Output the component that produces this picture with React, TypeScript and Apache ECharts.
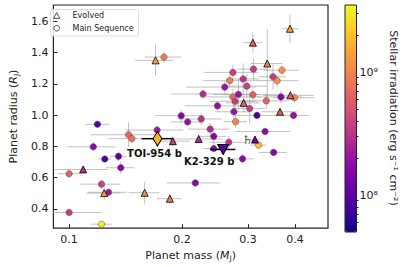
import React, { useEffect, useRef } from 'react';
import * as echarts from 'echarts';

// ---- Evolved host stars (triangles) ----
const evolvedMass = [0.109, 0.124, 0.159, 0.1856, 0.189, 0.2215, 0.170, 0.309, 0.3375, 0.388, 0.292, 0.389, 0.365, 0.313];
const evolvedRadius = [0.652, 0.501, 0.503, 0.465, 0.833, 0.847, 1.35, 1.463, 1.33, 1.552, 1.078, 1.126, 1.021, 0.843];
const evolvedIrr = [8.47, 9.10, 9.05, 8.95, 8.55, 8.45, 9.15, 8.80, 8.98, 9.15, 8.78, 8.80, 8.78, 8.10]; // log10
const evolvedMassErr = [0.0175, 0.013, 0.015, 0.014, 0.02, 0.035, 0.02, 0.018, 0.033, 0.02, 0.03, 0.06, 0.04, 0.01];
const evolvedRadiusErr = [0.02, 0.045, 0.07, 0.035, 0.03, 0.03, 0.1, 0.065, 0.22, 0.09, 0.06, 0.03, 0.02, 0.02];

// ---- Main sequence host stars (circles) ----
const mainMass = [0.119, 0.144, 0.147, 0.116, 0.1245, 0.1354, 0.1373, 0.1, 0.122, 0.1274, 0.1, 0.122, 0.217, 0.1716, 0.179,
  0.199, 0.207, 0.225, 0.2377, 0.243, 0.2665, 0.243, 0.2733, 0.31, 0.268, 0.26, 0.2976, 0.2275, 0.2733, 0.2827, 0.309, 0.277,
  0.2486, 0.303, 0.3168, 0.275, 0.278, 0.333, 0.32, 0.351, 0.29, 0.3965, 0.367, 0.399, 0.3355, 0.3694, 0.3585, 0.3496, 0.291];
const mainRadius = [0.941, 0.874, 0.849, 0.797, 0.719, 0.736, 0.663, 0.625, 0.558, 0.506, 0.377, 0.302, 0.566, 0.904, 1.371,
  0.996, 0.956, 0.975, 0.91, 0.864, 0.826, 0.786, 1.273, 1.294, 1.22, 1.179, 1.185, 1.135, 1.116, 1.132, 1.13, 1.088,
  1.059, 1.042, 0.998, 1.021, 0.958, 0.895, 0.808, 0.761, 0.72, 0.998, 1.116, 1.111, 1.091, 1.287, 1.22, 1.245, 1.231];
const mainIrr = [7.95, 8.85, 8.90, 8.22, 7.93, 8.00, 8.20, 8.80, 8.60, 8.30, 8.55, 9.48, 8.20, 8.35, 8.95,
  8.20, 8.30, 8.48, 8.44, 8.20, 8.50, 8.25, 8.58, 8.55, 8.95, 8.30, 8.58, 8.45, 8.85, 8.30, 8.80, 8.55,
  8.28, 8.55, 7.93, 8.30, 9.00, 8.22, 9.30, 8.20, 8.22, 8.28, 8.18, 9.00, 8.82, 9.05, 9.05, 8.55, 8.50];
const mainMassErr = [0.009, 0.03, 0.02, 0.017, 0.005, 0.007, 0.012, 0.007, 0.015, 0.015, 0.022, 0.008, 0.035, 0.03, 0.02,
  0.03, 0.02, 0.03, 0.03, 0.02, 0.03, 0.015, 0.045, 0.03, 0.04, 0.055, 0.04, 0.04, 0.05, 0.04, 0.05, 0.04,
  0.045, 0.03, 0.04, 0.03, 0.02, 0.055, 0.015, 0.03, 0.02, 0.04, 0.05, 0.05, 0.05, 0.04, 0.05, 0.03, 0.03];
const mainRadiusErr = [0.02, 0.08, 0.03, 0.03, 0.01, 0.03, 0.04, 0.015, 0.03, 0.02, 0.02, 0.01, 0.02, 0.03, 0.035,
  0.04, 0.02, 0.04, 0.04, 0.05, 0.04, 0.02, 0.05, 0.07, 0.04, 0.04, 0.08, 0.03, 0.05, 0.1, 0.04, 0.06,
  0.03, 0.1, 0.02, 0.05, 0.04, 0.02, 0.02, 0.02, 0.03, 0.02, 0.04, 0.03, 0.05, 0.03, 0.04, 0.08, 0.1];

// ---- Highlighted targets ----
const targetNames = ['TOI-954 b', 'K2-329 b'];
const targetMass = [0.172, 0.2575];
const targetRadius = [0.849, 0.78];
const targetIrr = [9.23, 7.98];
const targetMassErr = [0.016, 0.02];
const targetRadiusErr = [0.05, 0.02];

// ---- Saturn ----
const saturnMass = 0.299;
const saturnRadius = 0.843;

// ---- Axes ----
const xTicks = [0.1, 0.2, 0.3, 0.4];
const yTicks = [0.4, 0.6, 0.8, 1.0, 1.2, 1.4, 1.6];
const xRange = [0.0908, 0.49];
const yRange = [0.277, 1.704];
const cbarRange = [7.70, 9.545];
const cbarMajor = [8, 9];
const cbarMinor = [7.778, 7.845, 7.903, 7.954, 8.301, 8.477, 8.602, 8.699, 8.778, 8.845, 8.903, 8.954, 9.301, 9.477];

const plasma = ['#0d0887', '#41049d', '#6a00a8', '#8f0da4', '#b12a90', '#cc4778', '#e16462', '#f2844b', '#fca636', '#fcce25', '#f0f921'];

const FONT = 'DejaVu Sans';
const lg = Math.log10;

function errRows(m: number[], r: number[], me: number[], re: number[]) {
  return m.map((v, i) => [lg(v), r[i], lg(v - me[i]), lg(v + me[i]), r[i] - re[i], r[i] + re[i]]);
}

function makeErrRender(color: string, width: number, opacity: number) {
  return (params: any, api: any) => {
    const x = api.value(0), y = api.value(1);
    const a = api.coord([api.value(2), y]);
    const b = api.coord([api.value(3), y]);
    const c = api.coord([x, api.value(4)]);
    const d = api.coord([x, api.value(5)]);
    const style = { stroke: color, lineWidth: width, opacity };
    return {
      type: 'group',
      children: [
        { type: 'line', shape: { x1: a[0], y1: a[1], x2: b[0], y2: b[1] }, style },
        { type: 'line', shape: { x1: c[0], y1: c[1], x2: d[0], y2: d[1] }, style },
      ],
    };
  };
}

export default function App() {
  const ref = useRef<HTMLDivElement>(null);
  useEffect(() => {
    document.body.style.margin = '0';
    const chart = echarts.init(ref.current!, null, { renderer: 'svg' });
    const grayErr = [
      ...errRows(mainMass, mainRadius, mainMassErr, mainRadiusErr),
      ...errRows(evolvedMass, evolvedRadius, evolvedMassErr, evolvedRadiusErr),
    ];
    const blackErr = errRows(targetMass, targetRadius, targetMassErr, targetRadiusErr);
    const axisColor = '#222';
    const nameRich = {
      i: { fontStyle: 'italic', fontSize: 11, fontFamily: FONT, color: axisColor },
      s: { fontSize: 7.5, fontFamily: FONT, color: axisColor, padding: [5, 0, 0, 0] },
    };
    const option: any = {
      animation: false,
      backgroundColor: '#fff',
      textStyle: { fontFamily: FONT },
      grid: [
        { left: 42, top: 5, width: 286, height: 227, show: true, borderColor: axisColor, borderWidth: 1.2, backgroundColor: 'transparent' },
        { left: 345, top: 5, width: 11.5, height: 227, show: false },
      ],
      xAxis: [
        {
          gridIndex: 0, type: 'value', min: lg(xRange[0]), max: lg(xRange[1]),
          axisLine: { show: false }, splitLine: { show: false },
          axisTick: { show: true, inside: true, length: 4, customValues: xTicks.map(lg), lineStyle: { color: axisColor } },
          axisLabel: { customValues: xTicks.map(lg), formatter: (v: number) => String(Math.round(Math.pow(10, v) * 10) / 10), fontSize: 11, color: axisColor, margin: 6, fontFamily: FONT },
          name: 'Planet mass ({i|M}{s|J})', nameLocation: 'middle', nameGap: 16,
          nameTextStyle: { fontSize: 11, color: axisColor, fontFamily: FONT, rich: nameRich },
        },
        { gridIndex: 1, type: 'value', show: false, min: 0, max: 1 },
      ],
      yAxis: [
        {
          gridIndex: 0, type: 'value', min: yRange[0], max: yRange[1],
          axisLine: { show: false }, splitLine: { show: false },
          axisTick: { show: true, inside: true, length: 4, customValues: yTicks, lineStyle: { color: axisColor } },
          axisLabel: { customValues: yTicks, formatter: (v: number) => v.toFixed(1), fontSize: 11, color: axisColor, margin: 5, fontFamily: FONT },
          name: 'Planet radius ({i|R}{s|J})', nameLocation: 'middle', nameGap: 27, nameRotate: 90,
          nameTextStyle: { fontSize: 11, color: axisColor, fontFamily: FONT, rich: nameRich },
        },
        {
          gridIndex: 1, type: 'value', position: 'right', min: cbarRange[0], max: cbarRange[1],
          axisLine: { show: false }, splitLine: { show: false },
          axisTick: { show: true, length: 3.5, customValues: cbarMajor, lineStyle: { color: axisColor } },
          axisLabel: { customValues: cbarMajor, formatter: (v: number) => (Math.round(v) === 8 ? '10⁸' : '10⁹'), fontSize: 11, color: axisColor, margin: 3, fontFamily: FONT },
        },
        {
          gridIndex: 1, type: 'value', position: 'right', min: cbarRange[0], max: cbarRange[1],
          axisLine: { show: false }, splitLine: { show: false },
          axisTick: { show: true, length: 2, customValues: cbarMinor, lineStyle: { color: axisColor } },
          axisLabel: { show: false },
        },
      ],
      visualMap: {
        type: 'continuous', min: cbarRange[0], max: cbarRange[1], dimension: 2,
        seriesIndex: [1, 2, 4, 5], inRange: { color: plasma },
        left: 345, top: 5, itemWidth: 11.5, itemHeight: 227, padding: 0,
        calculable: false, realtime: false, text: null, showLabel: false,
        textStyle: { color: 'transparent' },
      },
      series: [
        {
          type: 'custom', xAxisIndex: 0, yAxisIndex: 0, clip: true, z: 1,
          renderItem: makeErrRender('#a0a0a0', 1, 0.65),
          data: grayErr, encode: { x: 0, y: 1 }, silent: true,
        },
        {
          type: 'scatter', xAxisIndex: 0, yAxisIndex: 0, symbol: 'circle', symbolSize: 6.5, z: 3,
          itemStyle: { borderColor: '#555', borderWidth: 0.5, opacity: 1 },
          data: mainMass.map((m, i) => [lg(m), mainRadius[i], mainIrr[i]]),
        },
        {
          type: 'scatter', xAxisIndex: 0, yAxisIndex: 0, symbol: 'triangle', symbolSize: 7, z: 3,
          itemStyle: { borderColor: '#000', borderWidth: 0.8, opacity: 1 },
          data: evolvedMass.map((m, i) => [lg(m), evolvedRadius[i], evolvedIrr[i]]),
        },
        {
          type: 'custom', xAxisIndex: 0, yAxisIndex: 0, clip: true, z: 4,
          renderItem: makeErrRender('#000', 1.5, 1),
          data: blackErr, encode: { x: 0, y: 1 }, silent: true,
        },
        {
          type: 'scatter', xAxisIndex: 0, yAxisIndex: 0, symbol: 'diamond', symbolSize: [9, 14], z: 5,
          itemStyle: { borderColor: '#000', borderWidth: 1, opacity: 1 },
          label: { show: true, position: 'inside', offset: [-3, 15], formatter: targetNames[0], fontWeight: 'bold', fontSize: 10, color: '#111', fontFamily: FONT },
          data: [[lg(targetMass[0]), targetRadius[0], targetIrr[0]]],
        },
        {
          type: 'scatter', xAxisIndex: 0, yAxisIndex: 0, symbol: 'triangle', symbolRotate: 180, symbolSize: [11, 10], z: 5,
          itemStyle: { borderColor: '#000', borderWidth: 1, opacity: 1 },
          label: { show: true, position: 'inside', offset: [-14, 12], formatter: targetNames[1], fontWeight: 'bold', fontSize: 10, color: '#111', fontFamily: FONT },
          data: [[lg(targetMass[1]), targetRadius[1], targetIrr[1]]],
        },
        {
          type: 'scatter', xAxisIndex: 0, yAxisIndex: 0, symbolSize: 1, z: 6,
          itemStyle: { color: 'transparent' },
          label: { show: true, position: 'inside', formatter: '♄', fontSize: 12, color: '#222', fontFamily: FONT },
          data: [[lg(saturnMass), saturnRadius]],
        },
      ],
      graphic: [
        {
          type: 'rect', z: 100, silent: true,
          shape: { x: 345, y: 5, width: 11.5, height: 227 },
          style: { fill: 'none', stroke: axisColor, lineWidth: 1 },
        },
        {
          type: 'text', z: 100, x: 393, y: 118, rotation: -Math.PI / 2,
          style: { text: 'Stellar irradiation (erg s⁻¹ cm⁻²)', fontSize: 11, fill: axisColor, fontFamily: FONT, align: 'center', verticalAlign: 'middle' },
        },
        {
          type: 'group', z: 100,
          children: [
            { type: 'rect', shape: { x: 50.5, y: 9.5, width: 88, height: 26.5, r: 2 }, style: { fill: 'rgba(255,255,255,0.85)', stroke: '#d4d4d4', lineWidth: 0.8 } },
            { type: 'polygon', shape: { points: [[56.7, 12.6], [53.6, 18.4], [59.8, 18.4]] }, style: { fill: '#fff', stroke: '#222', lineWidth: 0.8 } },
            { type: 'circle', shape: { cx: 56.7, cy: 28.2, r: 2.8 }, style: { fill: '#fff', stroke: '#222', lineWidth: 0.8 } },
            { type: 'text', x: 72.5, y: 15.8, style: { text: 'Evolved', fontSize: 8, fill: '#222', fontFamily: FONT, verticalAlign: 'middle' } },
            { type: 'text', x: 72.5, y: 28.2, style: { text: 'Main Sequence', fontSize: 8, fill: '#222', fontFamily: FONT, verticalAlign: 'middle' } },
          ],
        },
      ],
    };
    chart.setOption(option);
    return () => chart.dispose();
  }, []);
  return <div ref={ref} style={{ position: 'fixed', left: 0, top: 0, width: 407, height: 267 }} />;
}
